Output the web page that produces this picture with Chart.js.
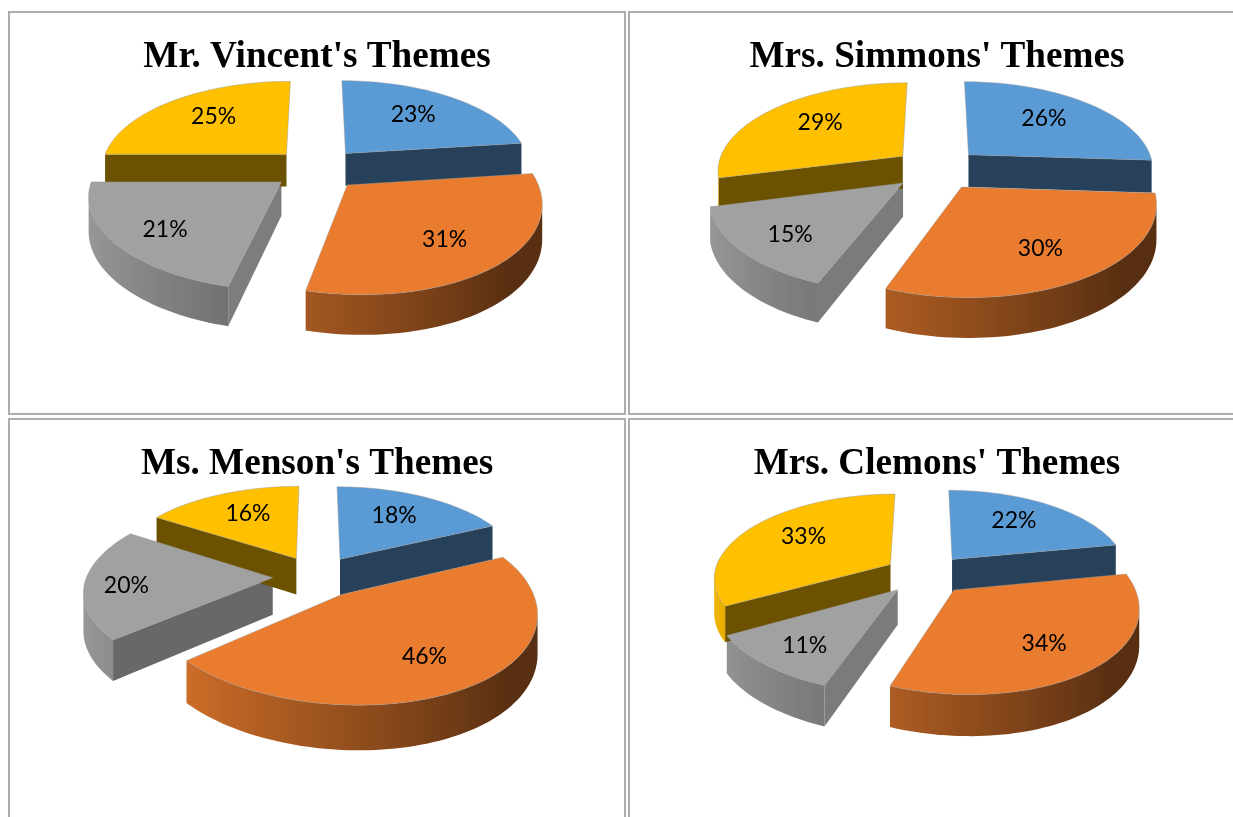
<!DOCTYPE html>
<html lang="en">
<head>
<meta charset="UTF-8">
<title>Themes</title>
<script src="https://cdn.jsdelivr.net/npm/chart.js"></script>
<style>
    html, body { margin: 0; padding: 0; background: #fff; overflow: hidden; width: 1233px; height: 817px; }
    #page { position: absolute; left: 8px; top: 11px; display: grid; grid-template-columns: 618px 618px; grid-auto-rows: 404px; column-gap: 2px; row-gap: 3px; }
    .cell { border: 2px solid #adadad; width: 614px; height: 400px; }
    canvas { display: block; }
</style>
</head>
<body>
<div id="page">
    <div class="cell"><canvas id="chart1" width="614" height="400"></canvas></div>
    <div class="cell"><canvas id="chart2" width="614" height="400"></canvas></div>
    <div class="cell"><canvas id="chart3" width="614" height="400"></canvas></div>
    <div class="cell"><canvas id="chart4" width="614" height="400"></canvas></div>
</div>
<script>
const categories = ['Theme 1', 'Theme 2', 'Theme 3', 'Theme 4'];
const vincentValues = [23, 31, 21, 25];
const simmonsValues = [26, 30, 15, 29];
const mensonValues = [18, 46, 20, 16];
const clemonsValues = [22, 34, 11, 33];
const titles = ["Mr. Vincent's Themes", "Mrs. Simmons' Themes", "Ms. Menson's Themes", "Mrs. Clemons' Themes"];

const colors = [[91, 155, 213], [233, 124, 46], [161, 161, 161], [255, 192, 0]];

// look of the fake 3d: tilt and perspective
const PERSP = 0.15, SCALE_X = 186, SCALE_Y = 88;

function rgb(c, k) {
    return `rgb(${Math.round(c[0] * k)},${Math.round(c[1] * k)},${Math.round(c[2] * k)})`;
}

const pie3d = {
    id: 'pie3d',
    beforeDatasetsDraw(chart, args, opts) {
        const ctx = chart.ctx;
        const arcs = chart.getDatasetMeta(0).data;
        const values = chart.data.datasets[0].data;
        const total = values.reduce((a, b) => a + b, 0);

        const slices = arcs.map((arc, i) => {
            const a = arc.getProps(['x', 'y', 'startAngle', 'endAngle', 'outerRadius'], false);
            const mid = (a.startAngle + a.endAngle) / 2;
            const off = arc.options.offset / a.outerRadius;
            const cx = a.x + opts.dx, cy = a.y + opts.dy;
            const ou = Math.cos(mid) * off, ov = Math.sin(mid) * off;
            const project = (r, ang, z) => {
                const u = ou + r * Math.cos(ang), v = ov + r * Math.sin(ang);
                const w = 1 - PERSP * v;
                return {
                    x: cx + opts.scale * SCALE_X * u / w + (v > 0 ? opts.skew * v * v : 0),
                    y: cy + opts.scale * (SCALE_Y * v + opts.depth * z) / w
                };
            };
            return { i, project, start: a.startAngle, end: a.endAngle, mid };
        });

        // walls first
        slices.forEach(s => {
            const c = colors[s.i];
            // cut faces
            [[s.start, s.start - Math.PI / 2], [s.end, s.end + Math.PI / 2]].forEach(([ang, normal]) => {
                const apex = s.project(0, 0, 0), rim = s.project(1, ang, 0), inner = s.project(0.7, s.mid, 0);
                const ex = rim.x - apex.x, ey = rim.y - apex.y;
                const side = ex * (inner.y - apex.y) - ey * (inner.x - apex.x);
                if (side * ex >= 0 || Math.abs(ex) < 0.08 * Math.abs(ey)) return; // hidden face
                const nx = Math.max(Math.cos(normal), 0);
                const k = s.i === 2 ? 0.4 + 0.39 * nx : 0.42;
                const low0 = s.project(0, 0, 1), low1 = s.project(1, ang, 1);
                ctx.beginPath();
                ctx.moveTo(apex.x, apex.y);
                ctx.lineTo(rim.x, rim.y);
                ctx.lineTo(low1.x, low1.y);
                ctx.lineTo(low0.x, low0.y);
                ctx.closePath();
                ctx.fillStyle = rgb(c, k);
                ctx.fill();
            });
            // outer wall, shaded by where it faces
            const steps = Math.ceil((s.end - s.start) / 0.03);
            const top = [], bottom = [], shade = [];
            for (let n = 0; n < steps; n++) {
                const a0 = s.start + (s.end - s.start) * n / steps;
                const a1 = s.start + (s.end - s.start) * (n + 1) / steps;
                const p0 = s.project(1, a0, 0), p1 = s.project(1, a1, 0);
                if (p1.x >= p0.x) continue;
                if (!top.length) {
                    top.push(p0);
                    bottom.push(s.project(1, a0, 1));
                    shade.push(Math.max(0.38, 0.62 - 0.33 * Math.cos(a0)));
                }
                top.push(p1);
                bottom.push(s.project(1, a1, 1));
                shade.push(Math.max(0.38, 0.62 - 0.33 * Math.cos(a1)));
            }
            if (top.length < 2) return;
            const xs = top.concat(bottom).map(p => p.x);
            const xMin = Math.min(...xs), xMax = Math.max(...xs);
            const grad = ctx.createLinearGradient(xMin, 0, xMax, 0);
            top.forEach((p, n) => grad.addColorStop((p.x - xMin) / (xMax - xMin), rgb(c, shade[n])));
            ctx.beginPath();
            top.forEach((p, n) => n ? ctx.lineTo(p.x, p.y) : ctx.moveTo(p.x, p.y));
            bottom.slice().reverse().forEach(p => ctx.lineTo(p.x, p.y));
            ctx.closePath();
            ctx.fillStyle = grad;
            ctx.fill();
        });

        // then the tops and their labels
        slices.forEach(s => {
            const steps = Math.ceil((s.end - s.start) / 0.03);
            ctx.beginPath();
            const apex = s.project(0, 0, 0);
            ctx.moveTo(apex.x, apex.y);
            for (let n = 0; n <= steps; n++) {
                const p = s.project(1, s.start + (s.end - s.start) * n / steps, 0);
                ctx.lineTo(p.x, p.y);
            }
            ctx.closePath();
            ctx.fillStyle = rgb(colors[s.i], 1);
            ctx.strokeStyle = 'rgba(150,150,150,0.45)';
            ctx.lineWidth = 1;
            ctx.fill();
            ctx.stroke();
        });

        ctx.fillStyle = '#000';
        ctx.font = '23px Lato';
        ctx.textAlign = 'center';
        ctx.textBaseline = 'middle';
        slices.forEach(s => {
            const front = Math.sin(s.mid) > 0;
            const across = Math.cos(s.mid);
            let r = 0.62;
            if (front) r = across > 0 ? 0.67 : 0.72 + 0.3 * Math.max(0, -across - 0.8);
            const p = s.project(r, s.mid, 0);
            ctx.fillText(Math.round(values[s.i] / total * 100) + '%', p.x, p.y + (front ? 4 : -3));
        });
        return false;
    }
};

function makePie(id, title, values, look) {
    return new Chart(document.getElementById(id), {
        type: 'pie',
        data: {
            labels: categories,
            datasets: [{ data: values, offset: 25, borderWidth: 0, backgroundColor: colors.map(c => rgb(c, 1)) }]
        },
        plugins: [pie3d],
        options: {
            responsive: false,
            animation: false,
            layout: { padding: { bottom: 88 } },
            plugins: {
                legend: { display: false },
                tooltip: { enabled: false },
                title: {
                    display: true,
                    text: title,
                    color: '#000',
                    font: { family: 'Liberation Serif', size: 37.2, weight: 'bold' },
                    padding: { top: 22, bottom: 10 }
                },
                pie3d: look
            }
        }
    });
}

makePie('chart1', titles[0], vincentValues, { dx: 0, dy: -38.5, scale: 1, skew: 7, depth: 33 });
makePie('chart2', titles[1], simmonsValues, { dx: 0, dy: -38.5, scale: 1, skew: 2, depth: 33 });
makePie('chart3', titles[2], mensonValues, { dx: 0, dy: -38, scale: 1, skew: 9, depth: 37 });
makePie('chart4', titles[3], clemonsValues, { dx: -11, dy: -40, scale: 0.95, skew: 8, depth: 36 });
</script>
</body>
</html>
